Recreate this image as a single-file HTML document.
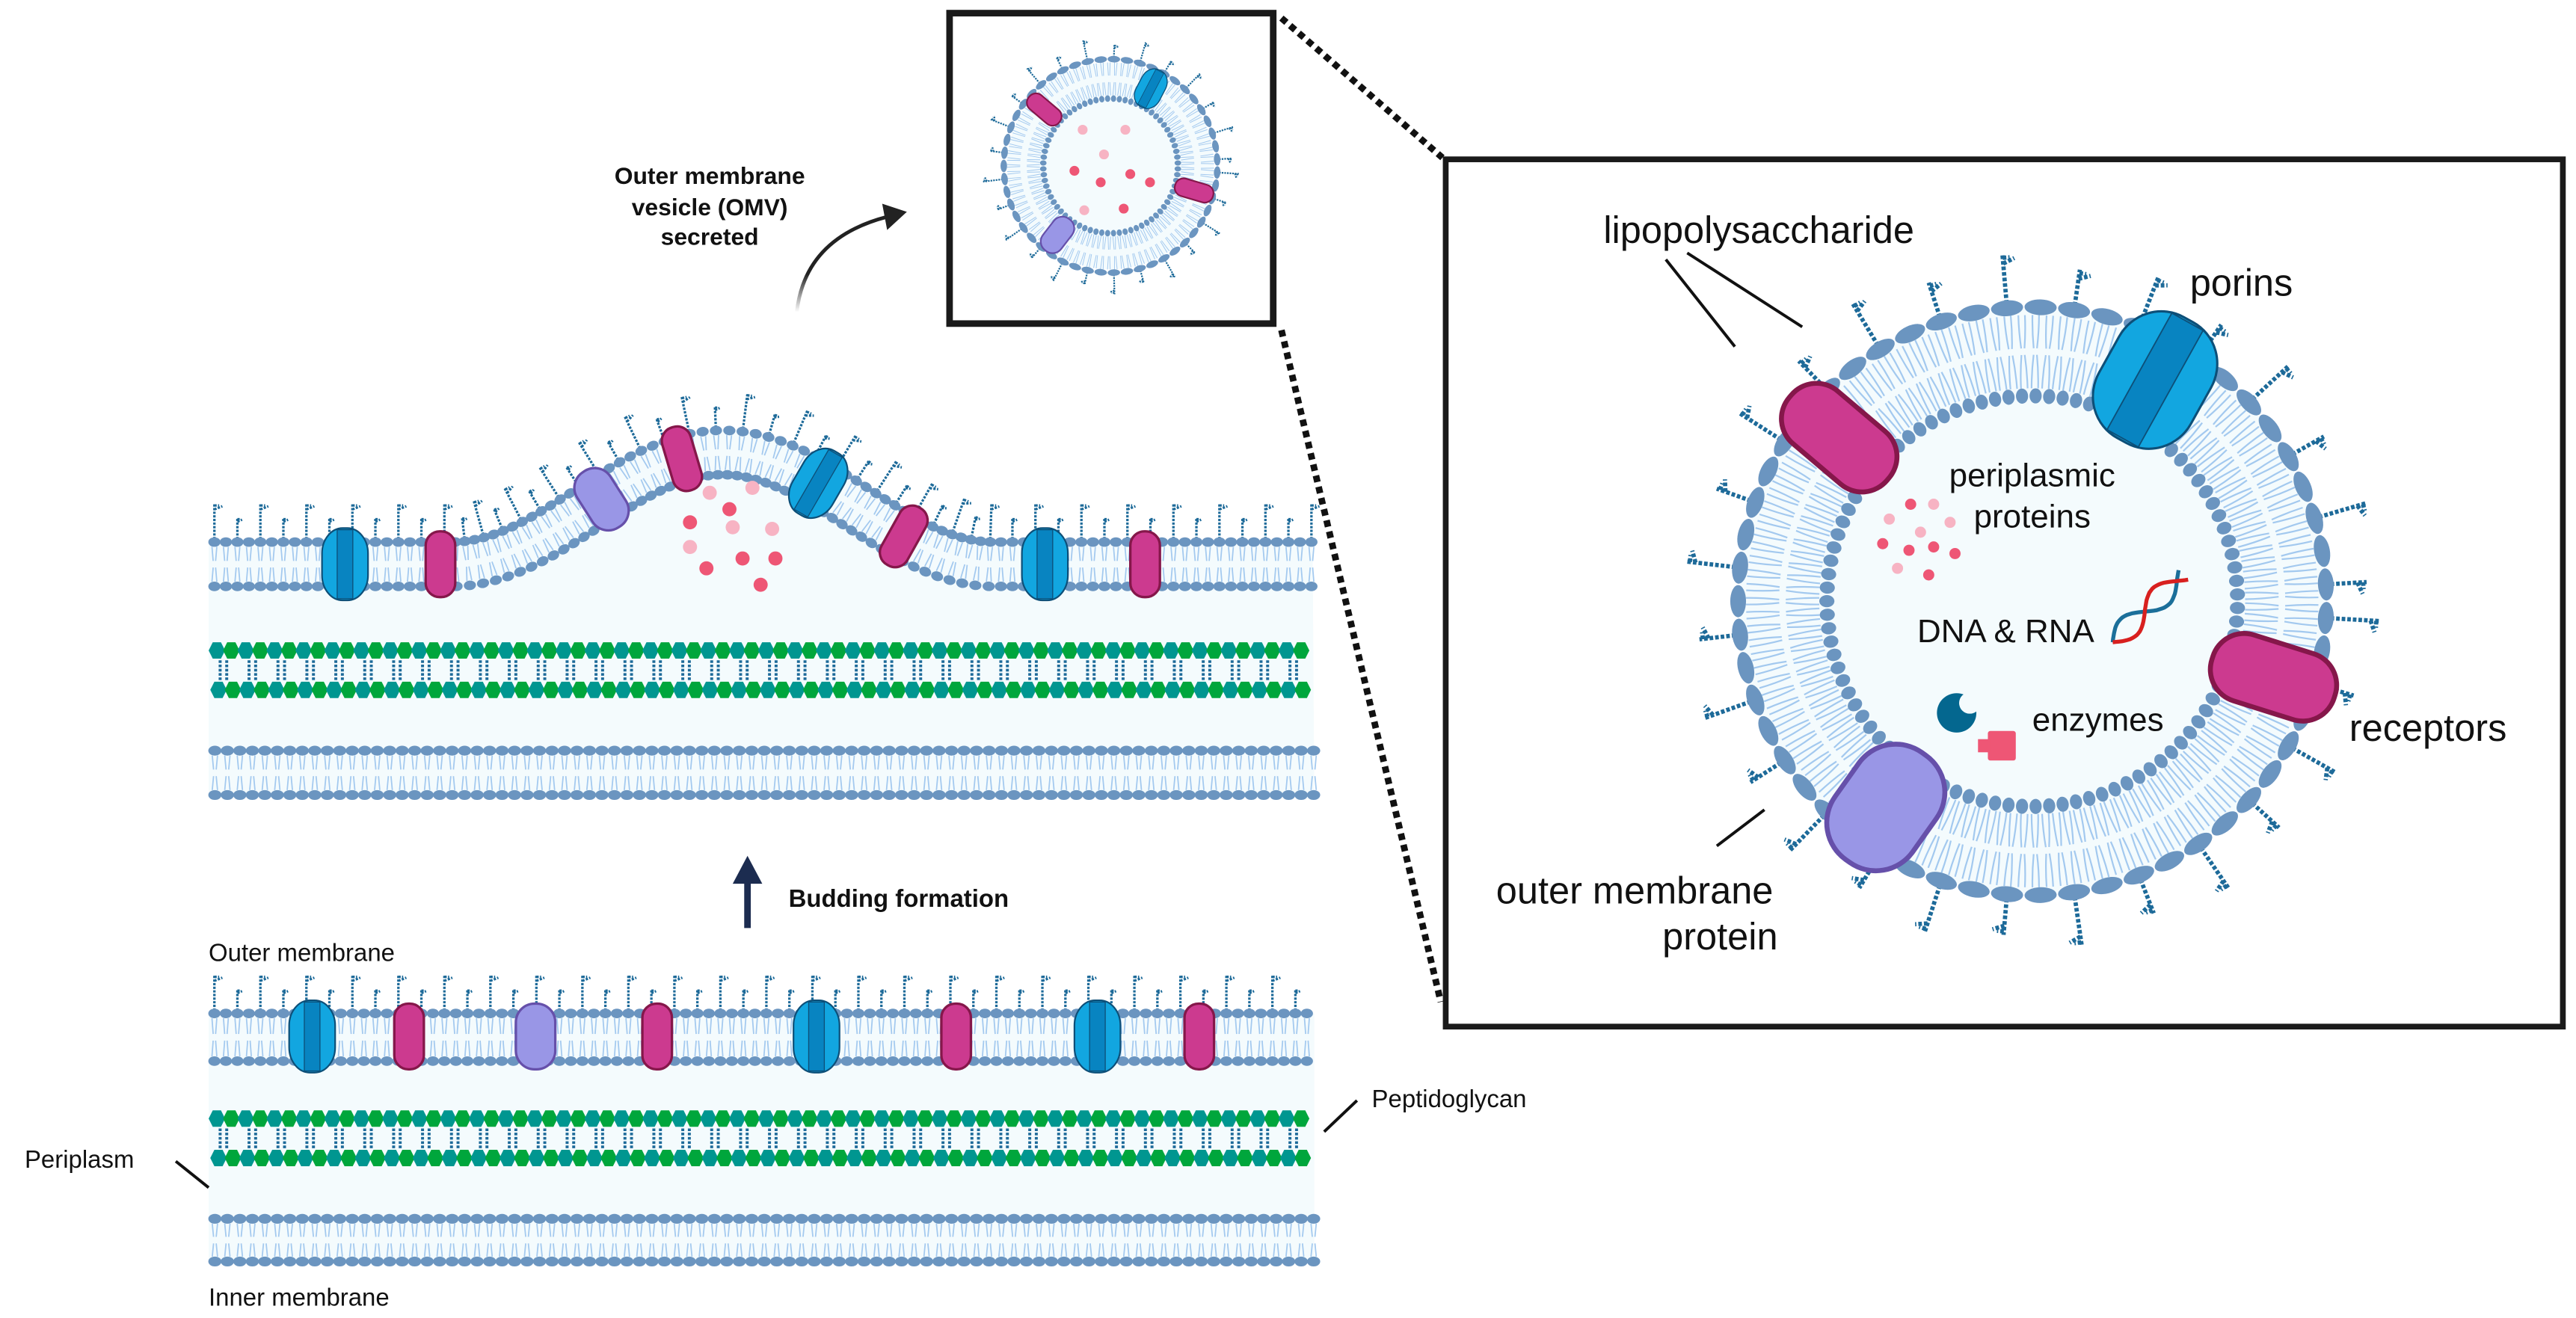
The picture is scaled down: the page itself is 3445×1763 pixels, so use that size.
<!DOCTYPE html>
<html><head><meta charset="utf-8">
<style>
html,body{margin:0;padding:0;background:#fff;}
svg{display:block;}
text{font-family:"Liberation Sans",sans-serif;fill:#111;}
</style></head>
<body>
<svg id="s" xmlns="http://www.w3.org/2000/svg" width="3445" height="1763" viewBox="0 0 1568 802.4" preserveAspectRatio="none">
<defs>
<linearGradient id="ag" x1="0" y1="1" x2="0" y2="0"><stop offset="0" stop-color="#222" stop-opacity="0"/><stop offset="0.4" stop-color="#222"/></linearGradient>
</defs>
<rect x="0" y="0" width="1568" height="802.4" fill="#fff"/>
<g id="bg"></g>
<g id="mem"></g>
<g id="prot"></g>
<g id="txt">
<text x="432" y="112" font-size="14.5" font-weight="bold" text-anchor="middle">Outer membrane</text>
<text x="432" y="131" font-size="14.5" font-weight="bold" text-anchor="middle">vesicle (OMV)</text>
<text x="432" y="149" font-size="14.5" font-weight="bold" text-anchor="middle">secreted</text>
<text x="480" y="552" font-size="15" font-weight="bold">Budding formation</text>
<text x="127" y="585" font-size="15">Outer membrane</text>
<text x="127" y="795" font-size="15">Inner membrane</text>
<text x="15" y="711" font-size="15">Periplasm</text>
<text x="835" y="674" font-size="15">Peptidoglycan</text>
<text x="976" y="148" font-size="23">lipopolysaccharide</text>
<text x="1333" y="180" font-size="23">porins</text>
<text x="1237" y="296" font-size="20" text-anchor="middle">periplasmic</text>
<text x="1237" y="321" font-size="20" text-anchor="middle">proteins</text>
<text x="1167" y="391" font-size="20">DNA &amp; RNA</text>
<text x="1237" y="445" font-size="20">enzymes</text>
<text x="1430" y="451" font-size="23">receptors</text>
<text x="995" y="550" font-size="23" text-anchor="middle">outer membrane</text>
<text x="1047" y="578" font-size="23" text-anchor="middle">protein</text>
</g>
</svg>
<script>
const NS='http://www.w3.org/2000/svg';
const G={bg:document.getElementById('bg'),mem:document.getElementById('mem'),prot:document.getElementById('prot'),svg:document.getElementById('s')};
function el(tag,a,p){const e=document.createElementNS(NS,tag);for(const k in a)e.setAttribute(k,a[k]);(p||G.mem).appendChild(e);return e;}
const HEAD='#6b95c0',TAIL='#a3c9ef',LPS='#1d6a99',LIGHT='#f4fbfd';

function curve(P,n){const pts=[];for(let i=0;i<=n;i++)pts.push(P(i/n));const L=[0];for(let i=1;i<=n;i++)L.push(L[i-1]+Math.hypot(pts[i][0]-pts[i-1][0],pts[i][1]-pts[i-1][1]));return{pts,L,total:L[n]};}
function along(C,sp,st){const r=[];let j=0;const n=C.pts.length-1;for(let s=st;s<=C.total-0.01;s+=sp){while(j<n-1&&C.L[j+1]<s)j++;const a=C.pts[j],b=C.pts[j+1];const d=Math.hypot(b[0]-a[0],b[1]-a[1])||1;const f=(s-C.L[j])/d;r.push({x:a[0]+(b[0]-a[0])*f,y:a[1]+(b[1]-a[1])*f,tx:(b[0]-a[0])/d,ty:(b[1]-a[1])/d});}return r;}

function bilayer(P,o){
  const C=curve(P,3000);
  let outer=along(C,o.spO,o.spO/2),inner=along(C,o.spI,o.spI/2);
  if(o.circ){const Ro=o.circ.R+o.half,Ri=o.circ.R-o.half;
    const no=Math.round(2*Math.PI*Ro/o.spO),ni=Math.round(2*Math.PI*Ri/o.spI);
    outer=[];for(let i=0;i<no;i++){const t=2*Math.PI*(i+0.5)/no;outer.push({x:o.circ.cx+o.circ.R*Math.cos(t),y:o.circ.cy+o.circ.R*Math.sin(t),tx:-Math.sin(t),ty:Math.cos(t)});}
    inner=[];for(let i=0;i<ni;i++){const t=2*Math.PI*(i+0.5)/ni;inner.push({x:o.circ.cx+o.circ.R*Math.cos(t),y:o.circ.cy+o.circ.R*Math.sin(t),tx:-Math.sin(t),ty:Math.cos(t)});}
  }
  const g=el('g',{});
  let d='';
  const tails=(list,sign,rx,ry,rr)=>{for(const p of list){const nx=p.ty*sign,ny=-p.tx*sign;for(const s of[-0.4,0.4]){const ox=p.tx*rx*s,oy=p.ty*rx*s;const x0=p.x+nx*(o.half-ry)+ox,y0=p.y+ny*(o.half-ry)+oy;const x1=p.x+nx*2+ox*0.5,y1=p.y+ny*2+oy*0.5;
    if(rr){const mx=(x0+x1)/2+p.tx*s*rr,my=(y0+y1)/2+p.ty*s*rr;d+=`M${x0.toFixed(2)},${y0.toFixed(2)}Q${mx.toFixed(2)},${my.toFixed(2)} ${x1.toFixed(2)},${y1.toFixed(2)}`;}
    else d+=`M${x0.toFixed(2)},${y0.toFixed(2)}L${x1.toFixed(2)},${y1.toFixed(2)}`;}}};
  if(o.circ){
    const nt=Math.round(2*Math.PI*o.circ.R/(o.tailSp||4));const tl=[];
    for(let i=0;i<nt;i++){const t=2*Math.PI*(i+0.5)/nt;tl.push({x:o.circ.cx+o.circ.R*Math.cos(t),y:o.circ.cy+o.circ.R*Math.sin(t),tx:-Math.sin(t),ty:Math.cos(t)});}
    tails(tl,1,o.tailW,o.ryO,o.curl);tails(tl,-1,o.tailW,o.ryI,o.curl);
  } else {tails(outer,1,o.rxO,o.ryO);tails(inner,-1,o.rxI,o.ryI);}
  el('path',{d,stroke:TAIL,'stroke-width':o.tw||0.8,fill:'none'},g);
  if(o.lps){let k=0;let ld='';
    outer.forEach((p,i)=>{if(i%o.lps.every!==0)return;const nx=p.ty,ny=-p.tx;const L=(k++%2?o.lps.s:o.lps.l);
      const x0=p.x+nx*(o.half+o.ryO*0.6),y0=p.y+ny*(o.half+o.ryO*0.6);const x1=x0+nx*L,y1=y0+ny*L;
      ld+=`M${x0.toFixed(2)},${y0.toFixed(2)}L${x1.toFixed(2)},${y1.toFixed(2)}`;
      const bl=(o.lps.b||L*0.22);const bx=x1-nx*bl*0.8,by=y1-ny*bl*0.8;
      ld+=`M${bx.toFixed(2)},${by.toFixed(2)}L${(bx+p.tx*bl+nx*bl*0.4).toFixed(2)},${(by+p.ty*bl+ny*bl*0.4).toFixed(2)}`;
      const cx=x1-nx*bl*0.3,cy=y1-ny*bl*0.3;
      ld+=`M${cx.toFixed(2)},${cy.toFixed(2)}L${(cx+p.tx*bl*0.6).toFixed(2)},${(cy+p.ty*bl*0.6).toFixed(2)}`;
    });
    el('path',{d:ld,stroke:LPS,'stroke-width':o.lps.w,fill:'none','stroke-dasharray':o.lps.da},g);}
  for(const p of outer){const nx=p.ty,ny=-p.tx;const a=Math.atan2(p.ty,p.tx)*180/Math.PI;const x=p.x+nx*o.half,y=p.y+ny*o.half;el('ellipse',{cx:x.toFixed(2),cy:y.toFixed(2),rx:o.rxO,ry:o.ryO,fill:HEAD,transform:`rotate(${a.toFixed(1)} ${x.toFixed(2)} ${y.toFixed(2)})`},g);}
  for(const p of inner){const nx=p.ty,ny=-p.tx;const a=Math.atan2(p.ty,p.tx)*180/Math.PI;const x=p.x-nx*o.half,y=p.y-ny*o.half;el('ellipse',{cx:x.toFixed(2),cy:y.toFixed(2),rx:o.rxI,ry:o.ryI,fill:HEAD,transform:`rotate(${a.toFixed(1)} ${x.toFixed(2)} ${y.toFixed(2)})`},g);}
  return C;
}
function capsule(x,y,w,h,ang,fill,stroke,sw){const g=el('g',{transform:`translate(${x},${y}) rotate(${ang})`},G.prot);el('rect',{x:-w/2,y:-h/2,width:w,height:h,rx:Math.min(w,h)/2*0.95,fill,stroke,'stroke-width':sw},g);}
function porin(x,y,w,h,ang,sw){const g=el('g',{transform:`translate(${x},${y}) rotate(${ang})`},G.prot);
  el('rect',{x:-w/2,y:-h/2,width:w,height:h,rx:w*0.45,ry:h*0.35,fill:'#12a6e0',stroke:'#0d4f78','stroke-width':sw},g);
  el('rect',{x:-w*0.17,y:-h/2+sw,width:w*0.34,height:h-2*sw,fill:'#0884c1',stroke:'#0d4f78','stroke-width':sw*0.6},g);}

// ===== backgrounds
el('rect',{x:127,y:617,width:673,height:151,fill:LIGHT},G.bg);
const bumpY=x=>{const u=(x-440)/165;return Math.abs(u)<1?68*(0.5+0.5*Math.cos(Math.PI*u)):0;};
let bd='M127,330';for(let x=127;x<=800;x+=2)bd+=`L${x},${(330-bumpY(x)).toFixed(2)}`;bd+='L800,484L127,484Z';
el('path',{d:bd,fill:LIGHT},G.bg);
const cx=1237,cy=366;
el('circle',{cx,cy,r:178,fill:LIGHT},G.bg);
el('circle',{cx:676,cy:101,r:63,fill:LIGHT},G.bg);

// ===== peptidoglycan
function hex(x,y,r,c){el('polygon',{points:`${x-r},${y} ${x-r/2},${y-r} ${x+r/2},${y-r} ${x+r},${y} ${x+r/2},${y+r} ${x-r/2},${y+r}`,fill:c});}
function pg(y1,y2){let d='';
  for(let i=0,x=132;x<799;x+=8.8,i++){hex(x,y1,5,i%2?'#00a63c':'#009690');hex(x+1,y2,5,i%2?'#00a63c':'#009690');
    if(i%2===0){d+=`M${x+2},${y1+6}L${x+2},${y2-6}M${x+6},${y1+6}L${x+6},${y2-6}`;}}
  el('path',{d,stroke:LPS,'stroke-width':1.8,'stroke-dasharray':'1.6 1',fill:'none'});}
pg(681,705);pg(396,420);

// ===== flat membranes
const flat=(y)=>t=>[127+673*t,y];
bilayer(flat(631.5),{half:14.5,spO:7,spI:7,rxO:3.7,ryO:2.9,rxI:3.7,ryI:2.9,lps:{every:2,l:22,s:13,w:1.5,da:'1.4 0.8'}});
bilayer(flat(755),{half:13,spO:7.6,spI:7.6,rxO:4,ryO:3,rxI:4,ryI:3});
bilayer(flat(470.5),{half:13.5,spO:7.6,spI:7.6,rxO:4,ryO:3,rxI:4,ryI:3});
const Ctop=bilayer(t=>{const x=127+673*t;return[x,343.5-bumpY(x)];},{half:13.5,spO:7,spI:7,rxO:3.7,ryO:2.9,rxI:3.7,ryI:2.9,lps:{every:2,l:22,s:13,w:1.5,da:'1.4 0.8'}});
bilayer(t=>[cx+152*Math.cos(2*Math.PI*t),cy+152*Math.sin(2*Math.PI*t)],{circ:{cx,cy,R:152},half:27,spO:20.5,spI:8.3,rxO:9.8,ryO:4.8,rxI:3.7,ryI:4.6,tw:1,tailSp:7.5,tailW:5,curl:1.5,lps:{every:2,l:30,s:22,w:2.6,da:'2.2 1.2',b:7}});
bilayer(t=>[676+53*Math.cos(2*Math.PI*t),101+53*Math.sin(2*Math.PI*t)],{circ:{cx:676,cy:101,R:53},half:12,spO:8,spI:3.6,rxO:3.8,ryO:2,rxI:1.6,ryI:2,tw:0.45,tailSp:3.6,tailW:2,lps:{every:2,l:12,s:8,w:1,da:'1 0.6',b:3}});

// ===== proteins
const MAG='#cc3a8f',MAGS='#85174a',PUR='#9996e6',PURS='#6650aa';
porin(190,631,28,44,0,1);capsule(249,631,18,40,0,MAG,MAGS,1.5);capsule(326,631,24,40,0,PUR,PURS,1.5);
capsule(400,631,18,40,0,MAG,MAGS,1.5);porin(497,631,28,44,0,1);capsule(582,631,18,40,0,MAG,MAGS,1.5);
porin(668,631,28,44,0,1);capsule(730,631,18,40,0,MAG,MAGS,1.5);
function onTop(x,fn){const i=Ctop.pts.findIndex(p=>p[0]>=x);const a=Ctop.pts[Math.max(i-3,0)],b=Ctop.pts[Math.min(i+3,Ctop.pts.length-1)];const ang=Math.atan2(b[1]-a[1],b[0]-a[0])*180/Math.PI;const p=Ctop.pts[i];fn(p[0],p[1],ang);}
onTop(210,(x,y,a)=>porin(x,y,28,44,a,1));onTop(268,(x,y,a)=>capsule(x,y,18,40,a,MAG,MAGS,1.5));
onTop(366,(x,y,a)=>capsule(x,y,24,40,a,PUR,PURS,1.5));onTop(415,(x,y,a)=>capsule(x,y,18,40,a,MAG,MAGS,1.5));
onTop(498,(x,y,a)=>porin(x,y,28,44,a,1));onTop(550,(x,y,a)=>capsule(x,y,18,40,a,MAG,MAGS,1.5));
onTop(636,(x,y,a)=>porin(x,y,28,44,a,1));onTop(697,(x,y,a)=>capsule(x,y,18,40,a,MAG,MAGS,1.5));
function onCirc(ccx,ccy,R,px,py,fn){const th=Math.atan2(py-ccy,px-ccx);fn(ccx+R*Math.cos(th),ccy+R*Math.sin(th),th*180/Math.PI+90);}
onCirc(cx,cy,154,1119,266,(x,y,a)=>capsule(x,y,42,78,a,MAG,MAGS,3));
onCirc(cx,cy,154,1312,231,(x,y,a)=>porin(x,y,64,84,a,1.4));
onCirc(cx,cy,154,1386,413,(x,y,a)=>capsule(x,y,42,78,a,MAG,MAGS,3));
onCirc(cx,cy,154,1149,490,(x,y,a)=>capsule(x,y,58,80,a,PUR,PURS,3));
onCirc(676,101,53,636,67,(x,y,a)=>capsule(x,y,11,24,a,MAG,MAGS,1));
onCirc(676,101,53,701,53,(x,y,a)=>porin(x,y,16,25,a,0.6));
onCirc(676,101,53,727,116,(x,y,a)=>capsule(x,y,11,24,a,MAG,MAGS,1));
onCirc(676,101,53,646,140,(x,y,a)=>capsule(x,y,14,24,a,PUR,PURS,1));

// ===== dots
const R1='#ee5675',P1='#f7b3c3';
[[432,300,P1],[458,297,P1],[420,318,R1],[446,321,P1],[470,322,P1],[452,340,R1],[430,346,R1],[463,356,R1],[420,333,P1],[444,310,R1],[472,340,R1]].forEach(d=>el('circle',{cx:d[0],cy:d[1],r:4.3,fill:d[2]},G.prot));
[[1163,307,R1],[1177,307,P1],[1150,316,P1],[1169,324,P1],[1187,318,P1],[1146,331,R1],[1162,335,R1],[1177,333,R1],[1190,337,R1],[1155,346,P1],[1174,350,R1]].forEach(d=>el('circle',{cx:d[0],cy:d[1],r:3.4,fill:d[2]},G.prot));
[[659,79,P1],[685,79,P1],[672,94,P1],[654,104,R1],[670,111,R1],[688,106,R1],[700,111,R1],[660,128,P1],[684,127,R1]].forEach(d=>el('circle',{cx:d[0],cy:d[1],r:3,fill:d[2]},G.prot));

// ===== DNA
(function(){let r='',b='';for(let i=0;i<=40;i++){const t=i/40;const x=1286+t*43,y=391-t*41;const w=7*Math.sin(t*Math.PI*2.2);r+=(i?'L':'M')+(x+w*0.7).toFixed(1)+','+(y+w*0.7).toFixed(1);b+=(i?'L':'M')+(x-w*0.7).toFixed(1)+','+(y-w*0.7).toFixed(1);}
el('path',{d:b,stroke:'#1b6f9a','stroke-width':2.4,fill:'none'},G.prot);el('path',{d:r,stroke:'#d8201f','stroke-width':2.4,fill:'none'},G.prot);})();
el('circle',{cx:1191,cy:434,r:12,fill:'#04678f'},G.prot);
el('circle',{cx:1199,cy:428,r:6.5,fill:LIGHT},G.prot);
el('rect',{x:1210,y:445,width:17,height:18,fill:'#ee5675',rx:1.5},G.prot);el('rect',{x:1204,y:450,width:8,height:8,fill:'#ee5675'},G.prot);

// ===== boxes, connectors
const T=G.svg;
el('rect',{x:578,y:8,width:197,height:189,fill:'none',stroke:'#1a1a1a','stroke-width':4},T);
el('rect',{x:880,y:97,width:680,height:528,fill:'none',stroke:'#1a1a1a','stroke-width':3.5},T);
el('line',{x1:780,y1:11,x2:878,y2:96,stroke:'#111','stroke-width':4,'stroke-dasharray':'4 3'},T);
el('line',{x1:780,y1:201,x2:877,y2:610,stroke:'#111','stroke-width':4,'stroke-dasharray':'4 3'},T);
el('line',{x1:1014,y1:158,x2:1056,y2:211,stroke:'#111','stroke-width':1.8},T);
el('line',{x1:1027,y1:154,x2:1097,y2:199,stroke:'#111','stroke-width':1.8},T);
el('line',{x1:1045,y1:515,x2:1074,y2:493,stroke:'#111','stroke-width':1.8},T);
el('line',{x1:107,y1:707,x2:127,y2:723,stroke:'#111','stroke-width':1.8},T);
el('line',{x1:826,y1:670,x2:806,y2:689,stroke:'#111','stroke-width':1.8},T);
el('path',{d:'M485,190 Q490,145 540,132',fill:'none',stroke:'url(#ag)','stroke-width':2.2},T);
el('polygon',{points:'552,129 537,124 540,140',fill:'#222'},T);
el('line',{x1:455,y1:565,x2:455,y2:535,stroke:'#1c2c50','stroke-width':4},T);
el('polygon',{points:'455,521 446,538 464,538',fill:'#1c2c50'},T);
T.appendChild(document.getElementById('txt'));
</script>
</body></html>
